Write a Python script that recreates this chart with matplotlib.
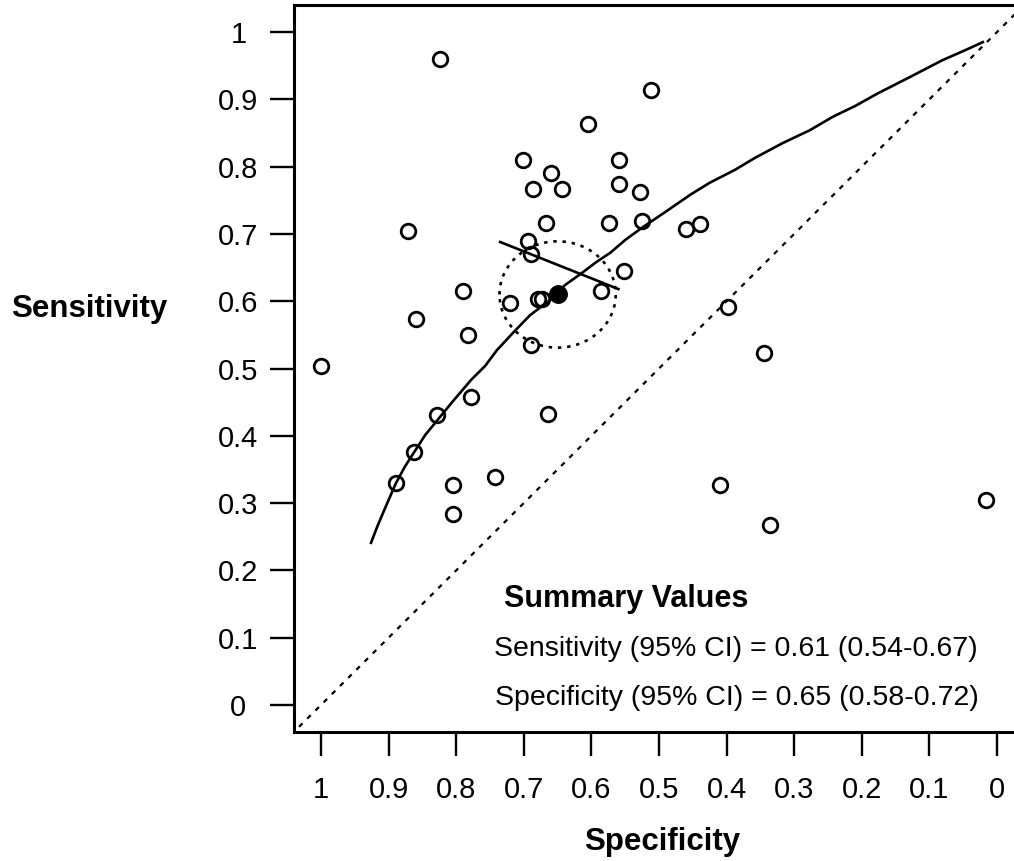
import matplotlib.pyplot as plt
import numpy as np

plt.rcParams['font.family'] = ['Liberation Sans', 'DejaVu Sans']

# per-study estimates
study_spec = [0.824, 0.512, 0.605, 0.701, 0.660, 0.559, 0.686, 0.643, 0.559, 0.528,
              0.871, 0.667, 0.574, 0.525, 0.460, 0.439, 0.694, 0.689, 0.552, 0.790,
              0.720, 0.679, 0.673, 0.586, 0.398, 0.859, 0.783, 0.689, 1.000, 0.345,
              0.778, 0.828, 0.664, 0.862, 0.889, 0.805, 0.805, 0.743, 0.410, 0.336,
              0.016]
study_sens = [0.960, 0.914, 0.863, 0.810, 0.790, 0.810, 0.767, 0.767, 0.774, 0.763,
              0.704, 0.716, 0.716, 0.719, 0.708, 0.714, 0.689, 0.670, 0.645, 0.615,
              0.597, 0.604, 0.604, 0.615, 0.592, 0.573, 0.550, 0.535, 0.504, 0.523,
              0.458, 0.431, 0.432, 0.376, 0.330, 0.327, 0.284, 0.339, 0.327, 0.268,
              0.304]

# SROC curve
curve_spec = [0.926, 0.916, 0.905, 0.889, 0.876, 0.862, 0.846, 0.828, 0.806, 0.778,
              0.757, 0.740, 0.716, 0.691, 0.661, 0.639, 0.614, 0.593, 0.572, 0.550,
              0.524, 0.493, 0.454, 0.425, 0.388, 0.358, 0.317, 0.277, 0.243, 0.210,
              0.176, 0.129, 0.081, 0.047, 0.021]
curve_sens = [0.241, 0.267, 0.293, 0.330, 0.354, 0.376, 0.401, 0.423, 0.450, 0.483,
              0.504, 0.527, 0.553, 0.579, 0.602, 0.624, 0.642, 0.658, 0.672, 0.691,
              0.710, 0.731, 0.758, 0.776, 0.795, 0.813, 0.835, 0.854, 0.874, 0.890,
              0.909, 0.933, 0.958, 0.973, 0.985]

# summary estimate
summary_sens = 0.61
summary_spec = 0.65
sens_ci = (0.54, 0.67)
spec_ci = (0.58, 0.72)

# confidence region (semi-axes in spec / sens units)
region_axes = (0.086, 0.079)

# segment through the summary area
seg_spec = [0.735, 0.560]
seg_sens = [0.688, 0.618]

ticks = [0, 0.1, 0.2, 0.3, 0.4, 0.5, 0.6, 0.7, 0.8, 0.9, 1]
tick_labels = ['0', '0.1', '0.2', '0.3', '0.4', '0.5', '0.6', '0.7', '0.8', '0.9', '1']

fig = plt.figure(figsize=(10.14, 8.61), dpi=100)
ax = fig.add_axes([293.96 / 1014, 129.1 / 861, 730.08 / 1014, 726.8 / 861])

ax.set_xlim(1.04, -0.04)
ax.set_ylim(-0.04, 1.04)

# chance line
ax.axline((1, 0), (0, 1), color='black', lw=1.6, linestyle=(0, (2.2, 3)))

ax.plot(curve_spec, curve_sens, color='black', lw=1.9, solid_joinstyle='round')

ax.plot(study_spec, study_sens, linestyle='none', marker='o', markersize=10.5,
        markerfacecolor='none', markeredgecolor='black', markeredgewidth=2.0)

t = np.linspace(0, 2 * np.pi, 200)
ax.plot(summary_spec + region_axes[0] * np.cos(t),
        summary_sens + region_axes[1] * np.sin(t),
        color='black', lw=1.9, linestyle=(0, (1.3, 2.2)))

ax.plot(seg_spec, seg_sens, color='black', lw=1.9)

ax.plot(summary_spec, summary_sens, marker='o', markersize=12.5, color='black')
ax.plot(summary_spec, summary_sens, marker='P', markersize=11.5, color='black')

for side in ['left', 'bottom', 'top', 'right']:
    ax.spines[side].set_linewidth(2.2)

ax.set_xticks(ticks)
ax.set_xticklabels(tick_labels)
ax.set_yticks(ticks)
ax.set_yticklabels(tick_labels, ha='center')
ax.tick_params(axis='both', length=17, width=1.7, labelsize=21)
ax.tick_params(axis='x', pad=15)
ax.tick_params(axis='y', pad=23)

ax.text(0.729, 0.146, 'Summary Values', fontsize=22, fontweight='bold',
        ha='left', va='baseline')
ax.text(0.744, 0.073,
        f'Sensitivity (95% CI) = {summary_sens:.2f} ({sens_ci[0]:.2f}-{sens_ci[1]:.2f})',
        fontsize=20.5, ha='left', va='baseline')
ax.text(0.743, 0.0,
        f'Specificity (95% CI) = {summary_spec:.2f} ({spec_ci[0]:.2f}-{spec_ci[1]:.2f})',
        fontsize=20.5, ha='left', va='baseline')

fig.text(11 / 1014, 1 - 317 / 861, 'Sensitivity', fontsize=22.5, fontweight='bold',
         ha='left', va='baseline')
fig.text(662 / 1014, 1 - 850 / 861, 'Specificity', fontsize=22.5, fontweight='bold',
         ha='center', va='baseline')

fig.savefig('out.png', dpi=100)
